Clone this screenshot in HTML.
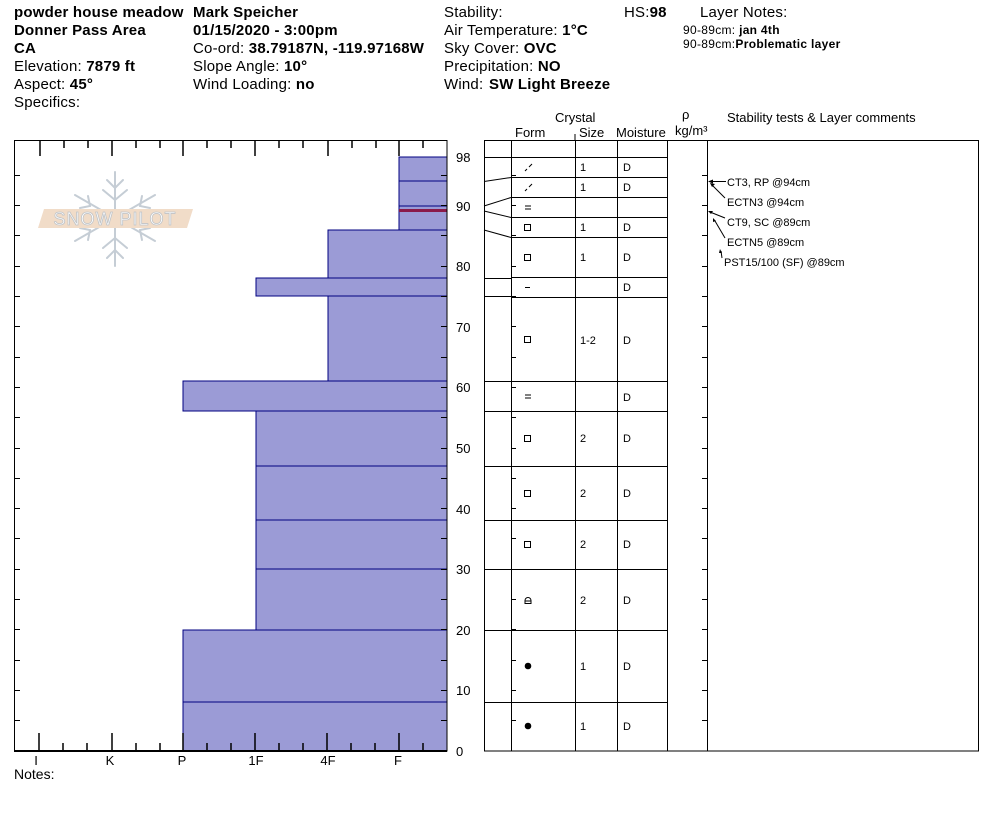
<!DOCTYPE html>
<html><head><meta charset="utf-8"><style>
body{margin:0;background:#fff;}
svg{display:block;font-family:"Liberation Sans",Arial,sans-serif;}
</style></head><body>
<svg width="994" height="840" viewBox="0 0 994 840" xmlns="http://www.w3.org/2000/svg">
<rect width="994" height="840" fill="#fff"/>
<!-- header -->
<g font-size="15" fill="#000" letter-spacing="0.2">
<text x="14" y="17" font-weight="bold">powder house meadow</text>
<text x="14" y="35" font-weight="bold">Donner Pass Area</text>
<text x="14" y="53" font-weight="bold">CA</text>
<text x="14" y="71">Elevation: <tspan font-weight="bold">7879 ft</tspan></text>
<text x="14" y="89">Aspect: <tspan font-weight="bold">45°</tspan></text>
<text x="14" y="107">Specifics:</text>
<text x="193" y="17" font-weight="bold">Mark Speicher</text>
<text x="193" y="35" font-weight="bold">01/15/2020 - 3:00pm</text>
<text x="193" y="53">Co-ord: <tspan font-weight="bold">38.79187N, -119.97168W</tspan></text>
<text x="193" y="71">Slope Angle: <tspan font-weight="bold">10°</tspan></text>
<text x="193" y="89">Wind Loading: <tspan font-weight="bold">no</tspan></text>
<text x="444" y="17">Stability:</text>
<text x="444" y="35">Air Temperature: <tspan font-weight="bold">1°C</tspan></text>
<text x="444" y="53">Sky Cover: <tspan font-weight="bold">OVC</tspan></text>
<text x="444" y="71">Precipitation: <tspan font-weight="bold">NO</tspan></text>
<text x="444" y="89">Wind: <tspan x="489" font-weight="bold">SW Light Breeze</tspan></text>
<text x="624" y="17">HS:<tspan font-weight="bold">98</tspan></text>
<text x="700" y="17">Layer Notes:</text>
</g>
<text x="683" y="34" font-size="12" letter-spacing="0.3">90-89cm: <tspan font-weight="bold">jan 4th</tspan></text>
<text x="683" y="48" font-size="12" letter-spacing="0.3">90-89cm:<tspan font-weight="bold">Problematic layer</tspan></text>

<!-- logo -->
<g stroke="#c5cdd5" stroke-width="2" fill="none" stroke-linecap="round">
<line x1="115" y1="172" x2="115" y2="266"/>
<line x1="75" y1="195" x2="155" y2="241"/>
<line x1="75" y1="241" x2="155" y2="195"/>
<polyline points="107,180 115,188 123,180"/><polyline points="107,258 115,250 123,258"/>
<polyline points="103,190 115,200 127,190"/><polyline points="103,248 115,238 127,248"/>
<polyline points="80,208 90,206 88,196"/><polyline points="150,208 140,206 142,196"/>
<polyline points="80,228 90,230 88,240"/><polyline points="150,228 140,230 142,240"/>
</g>
<polygon points="44,209 193,209 187,228 38,228" fill="#f1dcc8"/>
<text x="115" y="225" font-size="18" text-anchor="middle" fill="#fff" stroke="#c0c4c8" stroke-width="0.8" letter-spacing="1">SNOW PILOT</text>

<!-- left chart layers -->
<g fill="#9b9bd6" stroke="#000080" stroke-width="1">
<rect x="399" y="157" width="48" height="24"/>
<rect x="399" y="181" width="48" height="25"/>
<rect x="399" y="206" width="48" height="24"/>
<rect x="328" y="230" width="119" height="48"/>
<rect x="256" y="278" width="191" height="18"/>
<rect x="328" y="296" width="119" height="85"/>
<rect x="183" y="381" width="264" height="30"/>
<rect x="256" y="411" width="191" height="55"/>
<rect x="256" y="466" width="191" height="54"/>
<rect x="256" y="520" width="191" height="49"/>
<rect x="256" y="569" width="191" height="61"/>
<rect x="183" y="630" width="264" height="72"/>
<rect x="183" y="702" width="264" height="49"/>
</g>
<rect x="399" y="209" width="48" height="3" fill="#8a1a4a"/>
<!-- chart frame -->
<rect x="14.5" y="140.5" width="432.5" height="610.5" fill="none" stroke="#000" stroke-width="1"/>
<line x1="14" y1="751" x2="447" y2="751" stroke="#000" stroke-width="2"/>
<g stroke="#000" stroke-width="1.5">
<line x1="40" y1="140" x2="40" y2="156"/><line x1="112" y1="140" x2="112" y2="156"/><line x1="183" y1="140" x2="183" y2="156"/><line x1="255" y1="140" x2="255" y2="156"/><line x1="328" y1="140" x2="328" y2="156"/><line x1="399" y1="140" x2="399" y2="156"/>
<line x1="64" y1="140" x2="64" y2="148"/><line x1="88" y1="140" x2="88" y2="148"/><line x1="136" y1="140" x2="136" y2="148"/><line x1="160" y1="140" x2="160" y2="148"/><line x1="207" y1="140" x2="207" y2="148"/><line x1="231" y1="140" x2="231" y2="148"/><line x1="279" y1="140" x2="279" y2="148"/><line x1="303" y1="140" x2="303" y2="148"/><line x1="352" y1="140" x2="352" y2="148"/><line x1="376" y1="140" x2="376" y2="148"/><line x1="423" y1="140" x2="423" y2="148"/>
<line x1="39" y1="751" x2="39" y2="733"/><line x1="112" y1="751" x2="112" y2="733"/><line x1="183" y1="751" x2="183" y2="733"/><line x1="255" y1="751" x2="255" y2="733"/><line x1="327" y1="751" x2="327" y2="733"/><line x1="399" y1="751" x2="399" y2="733"/>
<line x1="63" y1="751" x2="63" y2="743"/><line x1="87" y1="751" x2="87" y2="743"/><line x1="136" y1="751" x2="136" y2="743"/><line x1="160" y1="751" x2="160" y2="743"/><line x1="207" y1="751" x2="207" y2="743"/><line x1="231" y1="751" x2="231" y2="743"/><line x1="279" y1="751" x2="279" y2="743"/><line x1="303" y1="751" x2="303" y2="743"/><line x1="351" y1="751" x2="351" y2="743"/><line x1="375" y1="751" x2="375" y2="743"/><line x1="423" y1="751" x2="423" y2="743"/>
</g>
<g stroke="#000" stroke-width="1">
<path d="M14 720.5h6M14 690.5h6M14 660.5h6M14 629.5h6M14 599.5h6M14 569.5h6M14 538.5h6M14 508.5h6M14 478.5h6M14 448.5h6M14 417.5h6M14 387.5h6M14 357.5h6M14 326.5h6M14 296.5h6M14 266.5h6M14 235.5h6M14 205.5h6M14 175.5h6"/>
<path d="M441 720.5h6M441 690.5h6M441 660.5h6M441 629.5h6M441 599.5h6M441 569.5h6M441 538.5h6M441 508.5h6M441 478.5h6M441 448.5h6M441 417.5h6M441 387.5h6M441 357.5h6M441 326.5h6M441 296.5h6M441 266.5h6M441 235.5h6M441 205.5h6M441 175.5h6"/>
</g>
<g font-size="13" fill="#000">
<text x="456" y="162">98</text><text x="456" y="211">90</text><text x="456" y="271">80</text><text x="456" y="332">70</text><text x="456" y="392">60</text><text x="456" y="453">50</text><text x="456" y="514">40</text><text x="456" y="574">30</text><text x="456" y="635">20</text><text x="456" y="695">10</text><text x="456" y="756">0</text>
</g>
<g font-size="13" fill="#000" text-anchor="middle">
<text x="36" y="765">I</text><text x="110" y="765">K</text><text x="182" y="765">P</text><text x="256" y="765">1F</text><text x="328" y="765">4F</text><text x="398" y="765">F</text>
</g>
<text x="14" y="779" font-size="14">Notes:</text>

<!-- right table headers -->
<g font-size="13" fill="#000">
<text x="555" y="122">Crystal</text>
<text x="515" y="137">Form</text>
<text x="579" y="137">Size</text>
<text x="616" y="137">Moisture</text>
<text x="682" y="119">ρ</text>
<text x="675" y="135">kg/m³</text>
<text x="727" y="122">Stability tests &amp; Layer comments</text>
</g>
<line x1="575" y1="134" x2="575" y2="140" stroke="#000"/>
<rect x="484.5" y="140.5" width="494" height="610.5" fill="none" stroke="#000"/>
<g stroke="#000" stroke-width="1" fill="none">
<line x1="511.5" y1="140" x2="511.5" y2="751"/>
<line x1="575.5" y1="140" x2="575.5" y2="751"/>
<line x1="617.5" y1="140" x2="617.5" y2="751"/>
<line x1="667.5" y1="140" x2="667.5" y2="751"/>
<line x1="707.5" y1="140" x2="707.5" y2="751"/>
<path d="M511 157.5H667M511 177.5H667M511 197.5H667M511 217.5H667M511 237.5H667M511 277.5H667M511 297.5H667M511 381.5H667M511 411.5H667M511 466.5H667M511 520.5H667M511 569.5H667M511 630.5H667M511 702.5H667"/>
<path d="M484 157.5H511M484 181.5L511 177.5M484 206L511 197.5M484 211L511 217.5M484 230L511 237.5M484 278.5H511M484 296.5H511M484 381.5H511M484 411.5H511M484 466.5H511M484 520.5H511M484 569.5H511M484 630.5H511M484 702.5H511"/>
<path d="M511 720.5h5M511 690.5h5M511 660.5h5M511 629.5h5M511 599.5h5M511 569.5h5M511 538.5h5M511 508.5h5M511 478.5h5M511 448.5h5M511 417.5h5M511 387.5h5M511 357.5h5M511 326.5h5M511 296.5h5M511 266.5h5M511 235.5h5M511 205.5h5M511 175.5h5"/>
<path d="M702 720.5h5M702 690.5h5M702 660.5h5M702 629.5h5M702 599.5h5M702 569.5h5M702 538.5h5M702 508.5h5M702 478.5h5M702 448.5h5M702 417.5h5M702 387.5h5M702 357.5h5M702 326.5h5M702 296.5h5M702 266.5h5M702 235.5h5M702 205.5h5M702 175.5h5"/>
</g>
<g stroke="#000" stroke-width="1" fill="none">
<path d="M525 171l2-2M529 167l3-3"/>
<path d="M525 191l2-2M529 187l3-3"/>
<path d="M525 206h6M525 209h6"/>
<rect x="524.5" y="224.5" width="6" height="6"/>
<rect x="524.5" y="254.5" width="6" height="6"/>
<path d="M525 287.5h5"/>
<rect x="524.5" y="336.5" width="6" height="6"/>
<path d="M525 395h6M525 398h6"/>
<rect x="524.5" y="435.5" width="6" height="6"/>
<rect x="524.5" y="490.5" width="6" height="6"/>
<rect x="524.5" y="541.5" width="6" height="6"/>
<path d="M525 603.5v-3a3 3 0 0 1 6 0v3zM525 601h6"/>
</g>
<circle cx="528" cy="666" r="3.3" fill="#000"/>
<circle cx="528" cy="726" r="3.3" fill="#000"/>
<g font-size="11" fill="#000">
<text x="580" y="171">1</text><text x="623" y="171">D</text>
<text x="580" y="191">1</text><text x="623" y="191">D</text>
<text x="580" y="231">1</text><text x="623" y="231">D</text>
<text x="580" y="261">1</text><text x="623" y="261">D</text>
<text x="623" y="291">D</text>
<text x="580" y="344">1-2</text><text x="623" y="344">D</text>
<text x="623" y="401">D</text>
<text x="580" y="442">2</text><text x="623" y="442">D</text>
<text x="580" y="497">2</text><text x="623" y="497">D</text>
<text x="580" y="548">2</text><text x="623" y="548">D</text>
<text x="580" y="604">2</text><text x="623" y="604">D</text>
<text x="580" y="670">1</text><text x="623" y="670">D</text>
<text x="580" y="730">1</text><text x="623" y="730">D</text>
</g>
<g stroke="#000" stroke-width="1" fill="none">
<path d="M726 181.5H710"/>
<path d="M725 198L712 185"/>
<path d="M725 218L710 212"/>
<path d="M725 238L715 221"/>
<path d="M722 258L721 251"/>
</g>
<g fill="#000">
<polygon points="708,181.5 713,179.5 713,183.5"/>
<polygon points="710,183 715,184 712,187"/>
<polygon points="708,211 713,211 711,214"/>
<polygon points="713,218 716,221 713,222"/>
<polygon points="720,249 722,253 719,253"/>
</g>
<g font-size="11" fill="#000">
<text x="727" y="186">CT3, RP @94cm</text>
<text x="727" y="206">ECTN3 @94cm</text>
<text x="727" y="226">CT9, SC @89cm</text>
<text x="727" y="246">ECTN5 @89cm</text>
<text x="724" y="266">PST15/100 (SF) @89cm</text>
</g>
</svg>
</body></html>
